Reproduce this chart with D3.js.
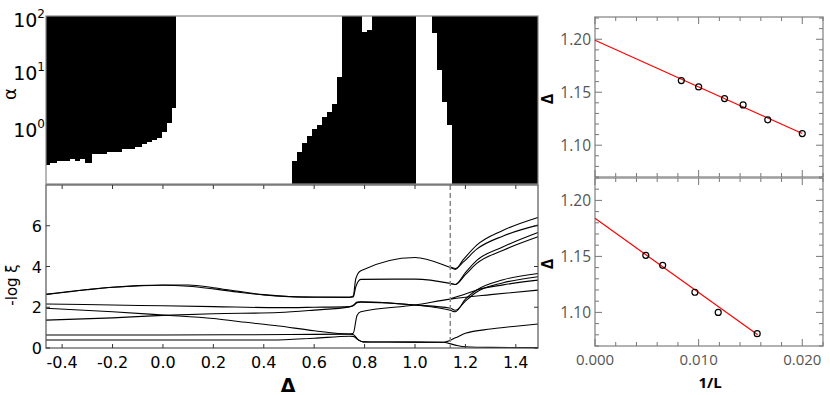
<!DOCTYPE html>
<html>
<head>
<meta charset="utf-8">
<script src="https://cdn.jsdelivr.net/npm/d3@7"></script>
<style>
body { margin: 0; background: #fff; }
text { font-family: "DejaVu Sans", sans-serif; }
.fit text { font-family: "Open Sans", sans-serif; }
</style>
</head>
<body>
<script>
//phase diagram (top left), values in log10(alpha)
var phaseA_edges = [-0.464, -0.448, -0.421, -0.369, -0.349, -0.329, -0.310, -0.282, -0.222, -0.163, -0.111, -0.083, -0.063, -0.044, -0.024, -0.004, 0.016, 0.036, 0.052];
var phaseA_low = [-0.614, -0.579, -0.544, -0.509, -0.544, -0.509, -0.579, -0.421, -0.386, -0.333, -0.298, -0.246, -0.211, -0.175, -0.140, -0.035, 0.123, 0.386];
var phaseB_levels = [-0.947, -0.544, -0.386, -0.228, -0.105, 0.018, 0.088, 0.228, 0.316, 0.456, 0.930, 2];
var phaseB_left = [0.511, 0.531, 0.551, 0.571, 0.591, 0.611, 0.630, 0.650, 0.670, 0.690, 0.710];
var phaseB_right = 1.003;
var notch_edges = [0.789, 0.809, 0.829];
var notch_depth = [1.719, 1.754];
var phaseC_levels = [-0.947, 0.088, 0.491, 1.053, 1.702, 2];
var phaseC_left = [1.146, 1.126, 1.108, 1.086, 1.066];
var alphaTicks = [0, 1, 2];

//-log xi spectrum (bottom left)
var spectrum = [
    [[-0.464, 2.63], [-0.3, 2.86], [-0.2, 2.98], [-0.1, 3.06], [0.0, 3.09], [0.1, 3.09], [0.2, 2.96], [0.3, 2.78], [0.4, 2.62], [0.5, 2.53], [0.6, 2.5], [0.74, 2.5], [0.755, 2.55], [0.765, 3.4], [0.785, 3.79], [1.0, 4.44], [1.14, 3.95], [1.16, 3.86], [1.19, 4.31], [1.245, 5.05], [1.35, 5.78], [1.488, 6.41]],
    [[-0.464, 2.63], [-0.2, 2.98], [0.0, 3.08], [0.1, 3.03], [0.2, 2.9], [0.3, 2.74], [0.4, 2.6], [0.5, 2.52], [0.6, 2.49], [0.74, 2.48], [0.755, 2.5], [0.765, 3.0], [0.785, 3.37], [1.0, 3.38], [1.14, 3.17], [1.16, 3.12], [1.2, 3.7], [1.245, 4.3], [1.35, 4.97], [1.488, 5.67]],
    [[1.14, 3.97], [1.16, 3.9], [1.19, 4.2], [1.245, 4.85], [1.35, 5.5], [1.488, 6.03]],
    [[1.14, 3.17], [1.16, 3.12], [1.2, 3.6], [1.245, 4.15], [1.35, 4.8], [1.488, 5.46]],
    [[-0.464, 2.16], [-0.2, 2.11], [0.0, 2.07], [0.2, 2.03], [0.46, 1.98], [0.6, 2.0], [0.74, 2.03], [0.755, 2.1], [0.77, 2.25], [0.785, 2.27], [1.0, 2.11], [1.14, 1.95], [1.16, 1.85], [1.2, 2.3], [1.245, 2.75], [1.35, 3.2], [1.488, 3.5]],
    [[-0.464, 1.37], [-0.2, 1.48], [0.0, 1.6], [0.2, 1.68], [0.46, 1.74], [0.6, 1.86], [0.74, 2.02], [0.755, 2.07], [0.77, 2.22], [0.785, 2.25], [1.0, 2.11], [1.14, 1.85], [1.16, 1.78], [1.2, 2.4], [1.245, 2.85], [1.35, 3.35], [1.488, 3.66]],
    [[-0.464, 1.95], [-0.2, 1.78], [0.0, 1.62], [0.2, 1.45], [0.3, 1.3], [0.46, 1.08], [0.6, 0.85], [0.74, 0.69], [0.755, 0.72], [0.77, 1.6], [0.785, 1.78], [1.0, 2.11], [1.14, 2.4], [1.3, 2.62], [1.488, 2.84]],
    [[1.14, 2.42], [1.2, 2.65], [1.245, 2.85], [1.35, 3.1], [1.488, 3.33]],
    [[-0.464, 0.64], [0.0, 0.64], [0.3, 0.65], [0.5, 0.66], [0.74, 0.68], [0.755, 0.66], [0.775, 0.4], [0.795, 0.3], [1.0, 0.29], [1.113, 0.28], [1.16, 0.5], [1.2, 0.72], [1.3, 0.93], [1.4, 1.07], [1.488, 1.18]],
    [[-0.464, 0.39], [0.0, 0.39], [0.43, 0.39], [0.6, 0.48], [0.74, 0.58], [0.755, 0.57], [0.775, 0.4], [0.795, 0.3], [1.0, 0.29], [1.113, 0.28], [1.16, 0.14], [1.2, 0.06], [1.3, 0.03], [1.488, 0.02]]
];
var transitionDelta = 1.14;
var deltaTicks = [-0.4, -0.2, 0.0, 0.2, 0.4, 0.6, 0.8, 1.0, 1.2, 1.4];
var xiTicks = [0, 2, 4, 6];

//finite size scaling (right)
var invL_top = [0.00833, 0.0100, 0.0125, 0.01429, 0.01667, 0.0200];
var gap_top = [1.161, 1.155, 1.144, 1.138, 1.124, 1.111];
var fitX_top = [0, 0.02];
var fitY_top = [1.199, 1.111];
var invL_bot = [0.0049, 0.00653, 0.00964, 0.01189, 0.01565];
var gap_bot = [1.151, 1.142, 1.118, 1.100, 1.081];
var fitX_bot = [0, 0.0157];
var fitY_bot = [1.184, 1.080];
var invLTicks = ["0.000", "0.010", "0.020"];
var gapTicks = ["1.10", "1.15", "1.20"];

var svg = d3.select("body").append("svg")
    .attr("width", 830)
    .attr("height", 395);

//scales
var x = d3.scaleLinear().domain([-0.464, 1.488]).range([46, 538]);
var yA = d3.scaleLog().domain([Math.pow(10, -0.947), 100]).range([184, 16]);
var yXi = d3.scaleLinear().domain([0, 8]).range([348, 185]);

function la(p) { return [x(p[0]), yA(Math.pow(10, p[1]))]; }
var poly = d3.line().x(function (p) { return la(p)[0]; }).y(function (p) { return la(p)[1]; });

function colPoly(edges, lows, topV) {
    var pts = [[edges[0], topV]];
    lows.forEach(function (v, i) { pts.push([edges[i], v], [edges[i + 1], v]); });
    pts.push([edges[edges.length - 1], topV]);
    return pts;
}
function rowPoly(levels, lefts, right) {
    var pts = [[right, levels[0]]];
    lefts.forEach(function (v, i) { pts.push([v, levels[i]], [v, levels[i + 1]]); });
    pts.push([right, levels[levels.length - 1]]);
    return pts;
}

var phase = svg.append("g");
phase.append("path").attr("d", poly(colPoly(phaseA_edges, phaseA_low, 2)) + "Z").attr("fill", "#000");
phase.append("path").attr("d", poly(rowPoly(phaseB_levels, phaseB_left, phaseB_right)) + "Z").attr("fill", "#000");
phase.append("path").attr("d", poly(colPoly(notch_edges, notch_depth, 2)) + "Z").attr("fill", "#fff");
phase.append("path").attr("d", poly(rowPoly(phaseC_levels, phaseC_left, 1.488)) + "Z").attr("fill", "#000");
phase.selectAll("path").attr("shape-rendering", "crispEdges");

phase.append("rect")
    .attr("x", 46).attr("y", 16).attr("width", 492).attr("height", 168)
    .attr("fill", "none").attr("stroke", "#888").attr("stroke-width", 1.2);

var aLab = phase.selectAll(".aLab")
    .data(alphaTicks)
    .enter().append("text")
    .attr("x", 45)
    .attr("y", function (d) { return Math.max(yA(Math.pow(10, d)) + 7, 27); })
    .attr("text-anchor", "end")
    .style("font-size", "19px");
aLab.append("tspan").text("10");
aLab.append("tspan").text(function (d) { return d; })
    .attr("dy", "-0.75em").style("font-size", "12px");

phase.append("text")
    .attr("transform", "translate(16,94) rotate(-90)")
    .attr("text-anchor", "middle")
    .style("font-size", "18px")
    .text("α");

//bottom left
var bot = svg.append("g");
var line = d3.line().x(function (d) { return x(d[0]); }).y(function (d) { return yXi(d[1]); }).curve(d3.curveMonotoneX);

bot.selectAll(".xi")
    .data(spectrum)
    .enter().append("path")
    .attr("d", line)
    .attr("fill", "none")
    .attr("stroke", "#000")
    .attr("stroke-width", 1.1);

bot.append("line")
    .attr("x1", x(transitionDelta)).attr("x2", x(transitionDelta))
    .attr("y1", yXi(8)).attr("y2", yXi(0))
    .attr("stroke", "#888").attr("stroke-width", 1.5).attr("stroke-dasharray", "5,3");

bot.append("rect")
    .attr("x", 46).attr("y", 185).attr("width", 492).attr("height", 163)
    .attr("fill", "none").attr("stroke", "#555").attr("stroke-width", 1.2);

deltaTicks.forEach(function (t) {
    bot.append("line").attr("x1", x(t)).attr("x2", x(t)).attr("y1", 348).attr("y2", 344).attr("stroke", "#333");
    bot.append("line").attr("x1", x(t)).attr("x2", x(t)).attr("y1", 185).attr("y2", 189).attr("stroke", "#333");
});
xiTicks.forEach(function (t) {
    bot.append("line").attr("x1", 46).attr("x2", 50).attr("y1", yXi(t)).attr("y2", yXi(t)).attr("stroke", "#333");
    bot.append("line").attr("x1", 538).attr("x2", 534).attr("y1", yXi(t)).attr("y2", yXi(t)).attr("stroke", "#333");
});

bot.selectAll(".dLab")
    .data(deltaTicks)
    .enter().append("text")
    .attr("x", function (d) { return x(d); })
    .attr("y", 368)
    .attr("text-anchor", "middle")
    .style("font-size", "16px")
    .text(function (d) { return d3.format(".1f")(d).replace("−", "-"); });

bot.selectAll(".yLab")
    .data(xiTicks)
    .enter().append("text")
    .attr("x", 42)
    .attr("y", function (d) { return yXi(d) + 6; })
    .attr("text-anchor", "end")
    .style("font-size", "16px")
    .text(function (d) { return d; });

bot.append("text")
    .attr("transform", "translate(17,285) rotate(-90)")
    .attr("text-anchor", "middle")
    .style("font-size", "15px")
    .text("-log ξ");

bot.append("text")
    .attr("x", 288).attr("y", 392)
    .attr("text-anchor", "middle")
    .style("font-size", "19px").style("font-weight", "bold")
    .text("Δ");

//right panels
var xL = d3.scaleLinear().domain([0, 0.022]).range([595, 823]);

function fitPanel(yScale, xs, ys, fx, fy, showX) {
    var g = svg.append("g").attr("class", "fit");
    var r = yScale.range();
    var y0 = r[0], y1 = r[1];
    g.append("rect")
        .attr("x", 595).attr("y", y1).attr("width", 228).attr("height", y0 - y1)
        .attr("fill", "none").attr("stroke", "#999").attr("stroke-width", 1.5);

    d3.range(0, 0.0221, 0.002).forEach(function (t, i) {
        var len = i % 5 == 0 ? 7 : 4;
        g.append("line").attr("x1", xL(t)).attr("x2", xL(t)).attr("y1", y0).attr("y2", y0 - len).attr("stroke", "#777");
        g.append("line").attr("x1", xL(t)).attr("x2", xL(t)).attr("y1", y1).attr("y2", y1 + len).attr("stroke", "#777");
    });
    d3.range(1.07, 1.2205, 0.01).forEach(function (t) {
        var major = Math.abs(Math.round(t * 100) % 5) == 0;
        var len = major ? 7 : 4;
        g.append("line").attr("x1", 595).attr("x2", 595 + len).attr("y1", yScale(t)).attr("y2", yScale(t)).attr("stroke", "#777");
        g.append("line").attr("x1", 823).attr("x2", 823 - len).attr("y1", yScale(t)).attr("y2", yScale(t)).attr("stroke", "#777");
    });

    g.selectAll(".gl")
        .data(gapTicks)
        .enter().append("text")
        .attr("x", 591)
        .attr("y", function (d) { return yScale(+d) + 5.5; })
        .attr("text-anchor", "end")
        .attr("fill", "#555")
        .style("font-size", "15.5px")
        .text(function (d) { return d; });

    if (showX) {
        g.selectAll(".xl")
            .data(invLTicks)
            .enter().append("text")
            .attr("x", function (d) { return xL(+d); })
            .attr("y", 365)
            .attr("text-anchor", "middle")
            .attr("fill", "#555")
            .style("font-size", "15px")
            .text(function (d) { return d; });
        g.append("text")
            .attr("x", 710).attr("y", 388)
            .attr("text-anchor", "middle")
            .style("font-size", "15px").style("font-weight", "bold")
            .text("1/L");
    }

    g.append("text")
        .attr("transform", "translate(553," + ((y0 + y1) / 2 + 2) + ") rotate(-90)")
        .attr("text-anchor", "middle")
        .style("font-size", "16px").style("font-weight", "bold")
        .text("Δ");

    g.append("line")
        .attr("x1", xL(fx[0])).attr("y1", yScale(fy[0]))
        .attr("x2", xL(fx[1])).attr("y2", yScale(fy[1]))
        .attr("stroke", "#f00").attr("stroke-width", 1.2);

    g.selectAll("circle")
        .data(xs)
        .enter().append("circle")
        .attr("cx", function (d) { return xL(d); })
        .attr("cy", function (d, i) { return yScale(ys[i]); })
        .attr("r", 3)
        .attr("fill", "none")
        .attr("stroke", "#000")
        .attr("stroke-width", 1.2);
}

fitPanel(d3.scaleLinear().domain([1.07, 1.221]).range([177, 17]), invL_top, gap_top, fitX_top, fitY_top, false);
fitPanel(d3.scaleLinear().domain([1.07, 1.22]).range([346, 178]), invL_bot, gap_bot, fitX_bot, fitY_bot, true);
</script>
</body>
</html>
